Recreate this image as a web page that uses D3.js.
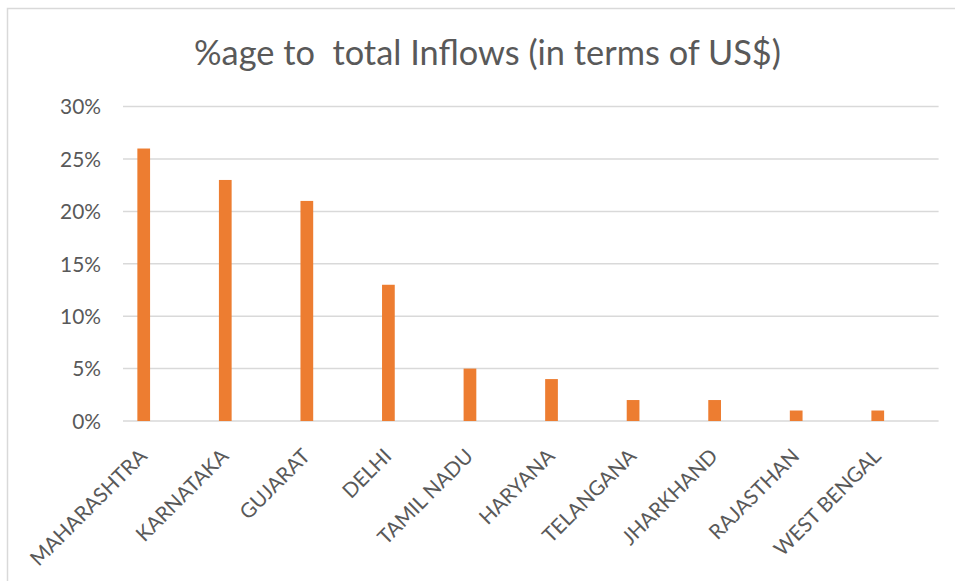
<!DOCTYPE html>
<html>
<head>
<meta charset="utf-8">
<script src="https://cdn.jsdelivr.net/npm/d3@7"></script>
<style>
  html, body { margin: 0; padding: 0; background: #fff; }
  svg { display: block; }
  text { font-family: Lato, "Open Sans", sans-serif; fill: #595959; }
</style>
</head>
<body>
<script>
const titleText = "%age to  total Inflows (in terms of US$)";
const categories = ["MAHARASHTRA", "KARNATAKA", "GUJARAT", "DELHI", "TAMIL NADU", "HARYANA", "TELANGANA", "JHARKHAND", "RAJASTHAN", "WEST BENGAL"];
const values = [0.26, 0.23, 0.21, 0.13, 0.05, 0.04, 0.02, 0.02, 0.01, 0.01];
const yTicks = [0, 0.05, 0.10, 0.15, 0.20, 0.25, 0.30];

const W = 955, H = 581;
const FONT = 'Lato, "Open Sans", sans-serif';
const svg = d3.select("body").append("svg").attr("width", W).attr("height", H);

// chart border (only left/top visible in frame)
svg.append("rect").attr("x", 7.5).attr("y", 8.5).attr("width", 1000).attr("height", 700)
  .attr("fill", "none").attr("stroke", "#d9d9d9").attr("stroke-width", 1.5);

const x = d3.scaleBand().domain(categories).range([123, 938.6]).padding(0);
const y = d3.scaleLinear().domain([0, 0.30]).range([421, 106.6]);

// gridlines
svg.append("g").selectAll("line").data(yTicks).join("line")
  .attr("x1", 123).attr("x2", 938.6)
  .attr("y1", d => y(d)).attr("y2", d => y(d))
  .attr("stroke", "#d9d9d9").attr("stroke-width", 1.5);

// y axis labels
const yAxis = d3.axisLeft(y).tickValues(yTicks).tickFormat(d3.format(".0%")).tickSize(0).tickPadding(0);
const gy = svg.append("g").attr("transform", "translate(101,0)").call(yAxis);
gy.select(".domain").remove();
gy.selectAll("text").attr("fill", "#595959").attr("dy", "0.35em").style("font-family", FONT);
const t30 = gy.selectAll("text").filter(d => d === 0.30);
gy.selectAll("text").style("font-size", "20px");
const w30 = t30.node().getComputedTextLength();
gy.selectAll("text").style("font-size", (20 * 41 / w30) + "px");

// bars
const bw = x.bandwidth();
svg.append("g").selectAll("rect").data(values).join("rect")
  .attr("x", (d, i) => x(categories[i]) + bw * 0.176)
  .attr("width", bw * 0.156)
  .attr("y", d => y(d))
  .attr("height", d => y(0) - y(d))
  .attr("fill", "#ED7D31");

// category labels
const labels = svg.append("g").selectAll("text").data(categories).join("text")
  .attr("text-anchor", "end")
  .attr("transform", d => `translate(${x(d) + bw * 0.254 + 4.5},457.5) rotate(-45)`)
  .text(d => d);
{
  const first = labels.filter((d, i) => i === 0);
  labels.style("font-size", "20px");
  const w = first.node().getComputedTextLength();
  labels.style("font-size", (20 * 155 / w) + "px");
}

// title
const title = svg.append("text").attr("x", 487.5).attr("y", 65).attr("text-anchor", "middle")
  .attr("xml:space", "preserve").style("white-space", "pre").text(titleText);
title.style("font-size", "20px");
{
  const w = title.node().getComputedTextLength();
  title.style("font-size", (20 * 587 / w) + "px");
}
</script>
</body>
</html>
